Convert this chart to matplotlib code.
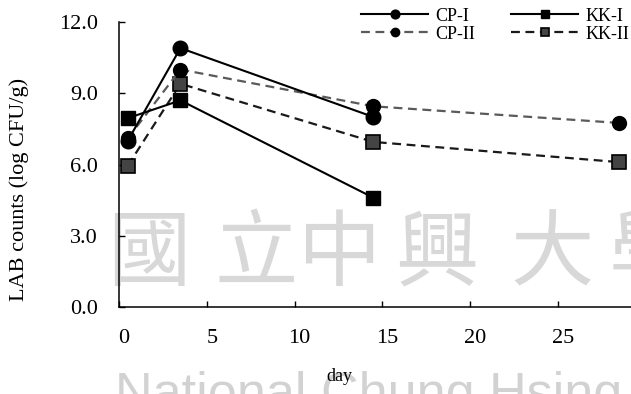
import matplotlib
matplotlib.use('Agg')
import matplotlib.pyplot as plt
import matplotlib.transforms as mtrans

plt.rcParams['font.family'] = ['Liberation Serif', 'DejaVu Serif']

# ---------- data ----------
days_cp1 = [0.5, 3.5, 14.5]
cp1 = [7.0, 10.9, 8.0]
days_cp2 = [0.5, 3.5, 14.5, 28.5]
cp2 = [7.1, 10.0, 8.45, 7.75]
days_kk1 = [0.5, 3.5, 14.5]
kk1 = [7.95, 8.7, 4.6]
days_kk2 = [0.5, 3.5, 14.5, 28.5]
kk2 = [5.95, 9.4, 6.95, 6.1]

yticks = [0, 3, 6, 9, 12]
ytick_labels = ['0.0', '3.0', '6.0', '9.0', '12.0']
xticks = [0, 5, 10, 15, 20, 25]

fig = plt.figure(figsize=(6.31, 3.94), dpi=100)
ax = fig.add_axes([119/631, 1 - 307/394, 512/631, 285/394])
ax.set_zorder(1)
ax.patch.set_alpha(0)

# watermark (behind the axes)
for ch, xc in zip('國立中興大學', [149, 256, 340, 437, 552, 650]):
    fig.text(xc/631, 1 - 255/394, ch, family=['Noto Sans CJK TC'], fontsize=60,
             color='#d8d8d8', ha='center', va='center', zorder=0)
fig.text(115/631, -15/394, 'National Chung Hsing', family=['Liberation Sans'],
         fontsize=37.5, color='#d2d2d2', ha='left', va='baseline', zorder=0)

ax.plot(days_kk2, kk2, linestyle=(0, (4, 2.5)), color='#1a1a1a', lw=1.6, marker='s',
        ms=10, mfc='#444444', mec='black', mew=1.2, label='KK-II', zorder=3)
ax.plot(days_cp2, cp2, linestyle=(0, (4, 2.5)), color='#5a5a5a', lw=1.6, marker='o',
        ms=10, mfc='black', mec='black', label='CP-II', zorder=3)
ax.plot(days_kk1, kk1, linestyle='-', color='black', lw=1.5, marker='s',
        ms=10, mfc='black', mec='black', label='KK-I', zorder=4)
ax.plot(days_cp1, cp1, linestyle='-', color='black', lw=1.5, marker='o',
        ms=10.5, mfc='black', mec='black', label='CP-I', zorder=5)

ax.set_xlim(0, 512/17.55)
ax.set_ylim(0, 12)
ax.set_yticks(yticks)
ax.set_yticklabels(ytick_labels)
ax.set_xticks(xticks)
ax.tick_params(direction='in', length=4, width=1, labelsize=16)
ax.tick_params(axis='y', pad=15)
ax.tick_params(axis='x', pad=16)
for lab in ax.get_xticklabels():
    lab.set_transform(lab.get_transform() + mtrans.ScaledTranslation(5/100, 0, fig.dpi_scale_trans))

for s in ['top', 'right']:
    ax.spines[s].set_visible(False)
for s in ['left', 'bottom']:
    ax.spines[s].set_linewidth(1.1)

ax.set_ylabel('LAB counts (log CFU/g)', fontsize=16)
ax.yaxis.set_label_coords(-0.176, 0.414)
ax.set_xlabel('day', fontsize=13)
ax.xaxis.set_label_coords(0.43, -0.215)

h, l = ax.get_legend_handles_labels()
order = [3, 1, 2, 0]
leg = fig.legend([h[i] for i in order], [l[i] for i in order], ncol=2, frameon=False,
                 loc='upper right', bbox_to_anchor=(1.0, 1 - 6/394), fontsize=13,
                 markerscale=0.6, handlelength=3.7, handletextpad=0.4,
                 columnspacing=2.0, labelspacing=0.05, borderpad=0.1, borderaxespad=0)

fig.savefig('out.png', dpi=100)
